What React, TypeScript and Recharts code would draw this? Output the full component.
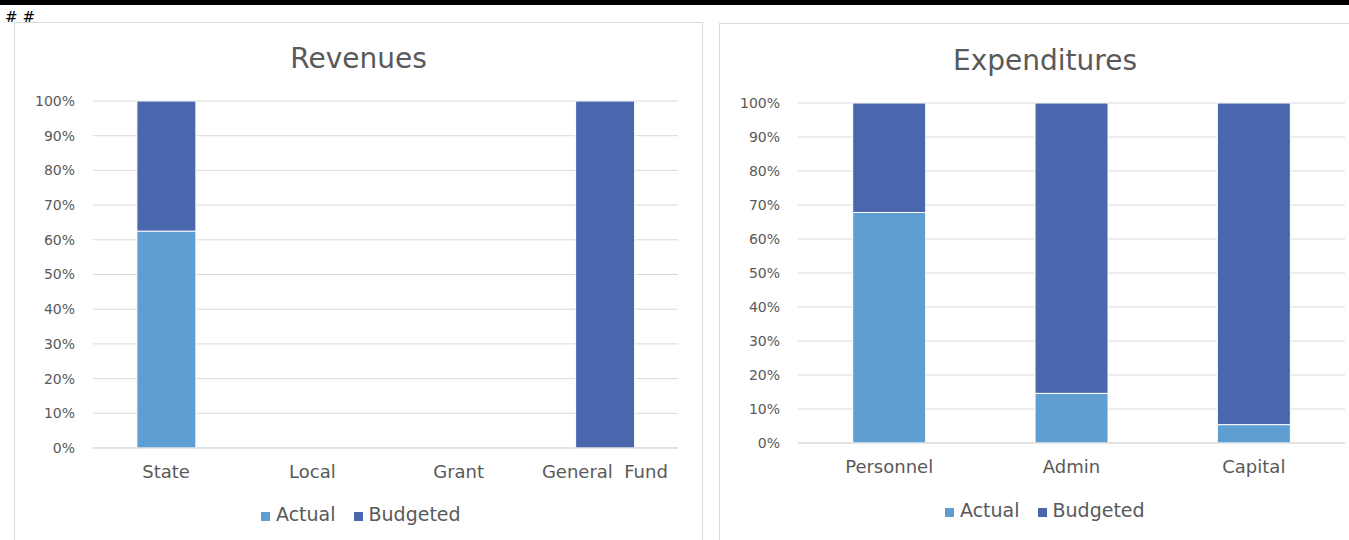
import { BarChart, Bar, XAxis, YAxis, CartesianGrid, Legend } from 'recharts';

const revenueCategories = ['State', 'Local', 'Grant', 'General\u00a0\u00a0Fund'];
const revenueActual = [62.5, 0, 0, 0];
const revenueBudgeted = [37.5, 0, 0, 100];

const expenseCategories = ['Personnel', 'Admin', 'Capital'];
const expenseActual = [67.8, 14.6, 5.4];
const expenseBudgeted = [32.2, 85.4, 94.6];

const percentTicks = [0, 10, 20, 30, 40, 50, 60, 70, 80, 90, 100];

const ACTUAL = '#5F9ED3';
const BUDGETED = '#4A67AE';
const TEXT = '#595959';
const GRID = '#D9D9D9';
const FONT = '"DejaVu Sans", sans-serif';

const revenueData = revenueCategories.map((name, i) => ({
  name,
  actual: revenueActual[i],
  budgeted: revenueBudgeted[i],
}));

const expenseData = expenseCategories.map((name, i) => ({
  name,
  actual: expenseActual[i],
  budgeted: expenseBudgeted[i],
}));

function StackedPanel({ data, width, height, margin, xHeight, legendLeft }: any) {
  return (
    <BarChart
      width={width}
      height={height}
      data={data}
      margin={margin}
      barCategoryGap="30%"
      style={{ fontFamily: FONT }}
    >
      <CartesianGrid vertical={false} stroke={GRID} />
      <XAxis
        dataKey="name"
        tickLine={false}
        axisLine={{ stroke: GRID }}
        tick={{ fill: TEXT, fontSize: 18, fontFamily: FONT }}
        tickMargin={11}
        interval={0}
        height={xHeight}
      />
      <YAxis
        domain={[0, 100]}
        ticks={percentTicks}
        tickFormatter={(v) => `${v}%`}
        tickLine={false}
        axisLine={false}
        tickSize={0}
        tickMargin={18}
        tick={{ fill: TEXT, fontSize: 14, fontFamily: FONT }}
        width={79}
        interval={0}
      />
      <Legend
        verticalAlign="bottom"
        iconType="square"
        iconSize={9}
        wrapperStyle={{ left: legendLeft, width: 'auto' }}
        formatter={(value) => (
          <span style={{ color: TEXT, fontSize: 19, fontFamily: FONT, marginLeft: 2, marginRight: 8 }}>{value}</span>
        )}
      />
      <Bar dataKey="actual" name="Actual" stackId="a" fill={ACTUAL} stroke="#fff" strokeWidth={1} isAnimationActive={false} />
      <Bar dataKey="budgeted" name="Budgeted" stackId="a" fill={BUDGETED} stroke="#fff" strokeWidth={1} isAnimationActive={false} />
    </BarChart>
  );
}

export default function App() {
  return (
    <div style={{ position: 'absolute', left: 0, top: 0, width: 1349, height: 540, overflow: 'hidden', background: '#fff' }}>
      <div style={{ position: 'absolute', left: 0, top: 0, width: 1349, height: 5, background: '#000' }} />
      <div style={{ position: 'absolute', left: 5, top: 8, fontSize: 15, letterSpacing: 5, fontFamily: '"DejaVu Serif", serif', color: '#000' }}>##</div>

      <div style={{ position: 'absolute', left: 14, top: 22, width: 689, height: 540, border: `1px solid ${GRID}`, boxSizing: 'border-box' }}>
        <div style={{ position: 'absolute', left: 0, right: 0, top: 19, textAlign: 'center', fontFamily: FONT, fontSize: 28, color: TEXT }}>
          Revenues
        </div>
        <div style={{ position: 'absolute', left: -1, top: -1 }}>
          <StackedPanel data={revenueData} width={690} height={518} xHeight={55} legendLeft={247} margin={{ top: 79, right: 26, bottom: 15, left: 0 }} />
        </div>
      </div>

      <div style={{ position: 'absolute', left: 719, top: 23, width: 660, height: 540, border: `1px solid ${GRID}`, boxSizing: 'border-box' }}>
        <div style={{ position: 'absolute', left: 0, width: 650, top: 20, textAlign: 'center', fontFamily: FONT, fontSize: 28, color: TEXT }}>
          Expenditures
        </div>
        <div style={{ position: 'absolute', left: -1, top: -1 }}>
          <StackedPanel data={expenseData} width={630} height={517} xHeight={56} legendLeft={226} margin={{ top: 80, right: 4, bottom: 19, left: 0 }} />
        </div>
      </div>
    </div>
  );
}
